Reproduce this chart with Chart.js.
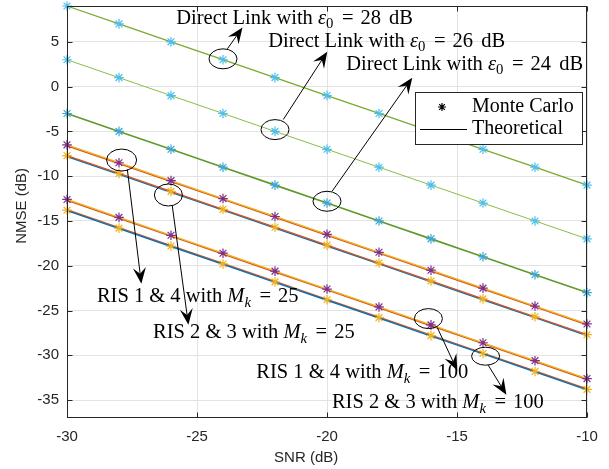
<!DOCTYPE html>
<html>
<head>
<meta charset="utf-8">
<script src="https://cdn.jsdelivr.net/npm/chart.js@4/dist/chart.umd.min.js"></script>
<style>
html,body{margin:0;padding:0;background:#fff;}
#c{display:block;}
</style>
</head>
<body>
<canvas id="c" width="609" height="469"></canvas>
<script>
// ---------- data ----------
const snr = [-30,-28,-26,-24,-22,-20,-18,-16,-14,-12,-10];
const xTicks = [-30,-25,-20,-15,-10];
const yTicks = [-35,-30,-25,-20,-15,-10,-5,0,5];
const xTitle = 'SNR (dB)';
const yTitle = 'NMSE (dB)';

// Monte Carlo (markers)
const dl28 = [9,7,5,3,1,-1,-3,-5,-7,-9,-11];
const dl26 = [3,1,-1,-3,-5,-7,-9,-11,-13,-15,-17];
const dl24 = [-3,-5,-7,-9,-11,-13,-15,-17,-19,-21,-23];
const ris14m25 = [-6.5,-8.5,-10.5,-12.5,-14.5,-16.5,-18.5,-20.5,-22.5,-24.5,-26.5];
const ris23m25 = [-7.7,-9.7,-11.7,-13.7,-15.7,-17.7,-19.7,-21.7,-23.7,-25.7,-27.7];
const ris14m100 = [-12.6,-14.6,-16.6,-18.6,-20.6,-22.6,-24.6,-26.6,-28.6,-30.6,-32.6];
const ris23m100 = [-13.8,-15.8,-17.8,-19.8,-21.8,-23.8,-25.8,-27.8,-29.8,-31.8,-33.8];

// Theoretical (lines)
const thDl28 = [9,7,5,3,1,-1,-3,-5,-7,-9,-11];
const thDl26 = [3,1,-1,-3,-5,-7,-9,-11,-13,-15,-17];
const thDl24 = [-3,-5,-7,-9,-11,-13,-15,-17,-19,-21,-23];
const thRis1m25 = [-7.8,-9.8,-11.8,-13.8,-15.8,-17.8,-19.8,-21.8,-23.8,-25.8,-27.8];
const thRis2m25 = [-7.7,-9.7,-11.7,-13.7,-15.7,-17.7,-19.7,-21.7,-23.7,-25.7,-27.7];
const thRis3m25 = [-6.6,-8.6,-10.6,-12.6,-14.6,-16.6,-18.6,-20.6,-22.6,-24.6,-26.6];
const thRis4m25 = [-6.5,-8.5,-10.5,-12.5,-14.5,-16.5,-18.5,-20.5,-22.5,-24.5,-26.5];
const thRis1m100 = [-13.85,-15.85,-17.85,-19.85,-21.85,-23.85,-25.85,-27.85,-29.85,-31.85,-33.85];
const thRis2m100 = [-13.75,-15.75,-17.75,-19.75,-21.75,-23.75,-25.75,-27.75,-29.75,-31.75,-33.75];
const thRis3m100 = [-12.7,-14.7,-16.7,-18.7,-20.7,-22.7,-24.7,-26.7,-28.7,-30.7,-32.7];
const thRis4m100 = [-12.6,-14.6,-16.6,-18.6,-20.6,-22.6,-24.6,-26.6,-28.6,-30.6,-32.6];

// annotation texts
const dlLabels = ['28','26','24'];
const risLabels = [['1 & 4','25'],['2 & 3','25'],['1 & 4','100'],['2 & 3','100']];

// ---------- helpers ----------
const pts = ys => snr.map((v,i)=>({x:v,y:ys[i]}));
const BLUE='#0072BD', RED='#D95319', ORANGE='#EDB120', PURPLE='#7E2F8E', CYAN='#4DBEEE', GREEN='#77AC30';

function line(data, color, w, order){
  return {type:'scatter', data:pts(data), showLine:true, borderColor:color, backgroundColor:color,
          borderWidth:w, pointRadius:0, pointHoverRadius:0, order:order, clip:false};
}
function marks(data, color){
  return {type:'scatter', data:pts(data), showLine:false, pointStyle:'star', pointRadius:4.8,
          pointBorderWidth:1.2, borderColor:color, backgroundColor:color, order:0, clip:false};
}

const SERIF = '"Liberation Serif","DejaVu Serif",serif';
const SANS = '"Liberation Sans", Arial, sans-serif';
function rich(ctx, parts, x, y, size){
  let cx = x;
  for (const [t, st] of parts){
    if (st === 'gap') { cx += t; continue; }
    let f, dy = 0;
    if (st === 'i') f = `italic ${size}px ${SERIF}`;
    else if (st === 's') { f = `${size*0.72}px ${SERIF}`; dy = size*0.22; }
    else if (st === 'is') { f = `italic ${size*0.72}px ${SERIF}`; dy = size*0.22; }
    else f = `${size}px ${SERIF}`;
    ctx.font = f;
    ctx.fillText(t, cx, y + dy);
    cx += ctx.measureText(t).width;
  }
}
function arrow(ctx, x0, y0, x1, y1){
  const ang = Math.atan2(y1-y0, x1-x0);
  const L = 16, W = 6.5, N = 10;
  const bx = x1 - L*Math.cos(ang), by = y1 - L*Math.sin(ang);
  const nx = x1 - N*Math.cos(ang), ny = y1 - N*Math.sin(ang);
  ctx.beginPath(); ctx.moveTo(x0,y0); ctx.lineTo(nx,ny); ctx.stroke();
  ctx.beginPath();
  ctx.moveTo(x1,y1);
  ctx.lineTo(bx + W*Math.sin(ang), by - W*Math.cos(ang));
  ctx.lineTo(nx, ny);
  ctx.lineTo(bx - W*Math.sin(ang), by + W*Math.cos(ang));
  ctx.closePath(); ctx.fill();
}

// annotation geometry in data coordinates (ellipse radii in px)
const ellipses = [[-24,3.1,14,10],[-22,-4.8,14,10],[-20,-12.8,14,10],
                  [-27.9,-8.2,15,11],[-26.1,-12.1,14,11],[-16.1,-25.9,14,10],[-13.9,-30.1,14,9]];
const arrows = [[-23.83,4.22,-23.25,6.6],[-21.68,-3.67,-19.99,3.9],[-19.8,-11.67,-16.72,1.0],
                [-27.68,-9.22,-27.14,-22.0],[-25.95,-13.33,-25.33,-26.6],
                [-15.76,-26.89,-14.99,-31.7],[-13.8,-31.1,-13.1,-34.4]];
const dlPos = [[-25.8,7.0],[-22.26,4.44],[-19.26,1.89]];
const risPos = [[-28.85,-24.08],[-26.69,-28.11],[-22.72,-32.56],[-19.81,-35.89]];

const annot = {
  id:'annot',
  afterDraw(chart){
    const {ctx, chartArea:a, scales:{x, y}} = chart;
    const X = v => x.getPixelForValue(v), Y = v => y.getPixelForValue(v);
    ctx.save();
    // inner ticks
    ctx.strokeStyle = '#262626'; ctx.lineWidth = 1;
    const L = Math.round(a.left)+0.5, R = Math.round(a.right)-0.5, T = Math.round(a.top)+0.5, B = Math.round(a.bottom)-0.5;
    ctx.beginPath();
    for (const v of xTicks){ const p = Math.round(X(v))+0.5; ctx.moveTo(p,B); ctx.lineTo(p,B-5); ctx.moveTo(p,T); ctx.lineTo(p,T+5); }
    for (const v of yTicks){ const p = Math.round(Y(v))+0.5; ctx.moveTo(L,p); ctx.lineTo(L+5,p); ctx.moveTo(R,p); ctx.lineTo(R-5,p); }
    ctx.stroke();
    ctx.strokeRect(L, T, R-L, B-T);

    // axis titles
    ctx.fillStyle = '#262626'; ctx.font = `15px ${SANS}`; ctx.textAlign = 'center'; ctx.textBaseline = 'middle';
    ctx.fillText(xTitle, a.left + (a.right-a.left)*0.46, a.bottom + 40);
    ctx.save(); ctx.translate(22, a.top + (a.bottom-a.top)*0.485); ctx.rotate(-Math.PI/2);
    ctx.fillText(yTitle, 0, 0); ctx.restore();

    // ellipses
    ctx.strokeStyle = '#000'; ctx.fillStyle = '#000'; ctx.lineWidth = 1;
    for (const [ex,ey,rx,ry] of ellipses){
      ctx.beginPath(); ctx.ellipse(X(ex), Y(ey), rx, ry, 0, 0, Math.PI*2); ctx.stroke();
    }
    for (const [x0,y0,x1,y1] of arrows) arrow(ctx, X(x0), Y(y0), X(x1), Y(y1));

    // texts
    ctx.fillStyle = '#000'; ctx.textBaseline = 'alphabetic'; ctx.textAlign = 'left';
    const fs = 20.5;
    dlLabels.forEach((v,i)=>{
      rich(ctx, [['Direct Link with ','r'],['\u03B5','i'],['0','s'],[8.5,'gap'],['=','r'],[7,'gap'],[v,'r'],[3,'gap'],[' dB','r']],
           X(dlPos[i][0]), Y(dlPos[i][1]), fs);
    });
    risLabels.forEach(([r,m],i)=>{
      rich(ctx, [['RIS '+r+' with ','r'],['M','i'],['k','is'],[8.5,'gap'],['=','r'],[7,'gap'],[m,'r']],
           X(risPos[i][0]), Y(risPos[i][1]), fs);
    });

    // legend
    const lx = a.right - 172, ly = a.top + 86;
    ctx.fillStyle = '#fff'; ctx.fillRect(lx, ly, 167, 52);
    ctx.strokeStyle = '#262626'; ctx.strokeRect(lx+0.5, ly+0.5, 167, 52);
    ctx.fillStyle = '#000'; ctx.strokeStyle = '#000';
    const sx = lx + 27, sy = ly + 15, r = 4;
    ctx.lineWidth = 1.2; ctx.beginPath();
    for (let k=0;k<4;k++){ const t = k*Math.PI/4; ctx.moveTo(sx-r*Math.cos(t), sy-r*Math.sin(t)); ctx.lineTo(sx+r*Math.cos(t), sy+r*Math.sin(t)); }
    ctx.stroke();
    ctx.lineWidth = 1;
    ctx.beginPath(); ctx.moveTo(lx+5, ly+37.5); ctx.lineTo(lx+52, ly+37.5); ctx.stroke();
    ctx.font = `20px ${SERIF}`;
    ctx.fillText('Monte Carlo', lx+57, ly+20);
    ctx.fillText('Theoretical', lx+57, ly+42);
    ctx.restore();
  }
};

const datasets = [
  marks(dl28, CYAN), marks(dl26, CYAN), marks(dl24, '#3FA6D8'),
  marks(ris14m25, PURPLE), marks(ris23m25, ORANGE), marks(ris14m100, PURPLE), marks(ris23m100, ORANGE),
  line(thDl28, GREEN, 1.3, 2), line(thDl26, '#88BE45', 1.0, 2), line(thDl24, '#5E9A2C', 1.6, 2),
  line(thRis1m25, BLUE, 1.4, 4), line(thRis2m25, RED, 1.3, 3),
  line(thRis3m25, RED, 1.4, 4), line(thRis4m25, ORANGE, 1.3, 3),
  line(thRis2m100, RED, 1.4, 4), line(thRis1m100, BLUE, 1.4, 3),
  line(thRis3m100, RED, 1.4, 4), line(thRis4m100, ORANGE, 1.3, 3)
];

const tickFont = {family:SANS, size:15};
new Chart(document.getElementById('c'), {
  type:'scatter',
  data:{datasets},
  options:{
    responsive:false, animation:false, devicePixelRatio:1,
    layout:{padding:{left:0, right:22, top:4, bottom:0}},
    plugins:{legend:{display:false}, tooltip:{enabled:false}},
    scales:{
      x:{type:'linear', min:-30, max:-10,
         afterBuildTicks:s=>{s.ticks = xTicks.map(v=>({value:v}));},
         afterFit:s=>{s.height = 51; s.paddingLeft = 0; s.paddingRight = 0;},
         grid:{color:'#e3e3e3', lineWidth:1, drawTicks:false},
         border:{display:false},
         ticks:{font:tickFont, color:'#262626', padding:10, maxRotation:0},
         title:{display:false, text:xTitle}},
      y:{type:'linear', min:-37, max:9,
         afterBuildTicks:s=>{s.ticks = yTicks.map(v=>({value:v}));},
         afterFit:s=>{s.width = 67; s.paddingTop = 0; s.paddingBottom = 0;},
         grid:{color:'#e3e3e3', lineWidth:1, drawTicks:false},
         border:{display:false},
         ticks:{font:tickFont, color:'#262626', padding:8},
         title:{display:false, text:yTitle}}
    }
  },
  plugins:[annot]
});
</script>
</body>
</html>
